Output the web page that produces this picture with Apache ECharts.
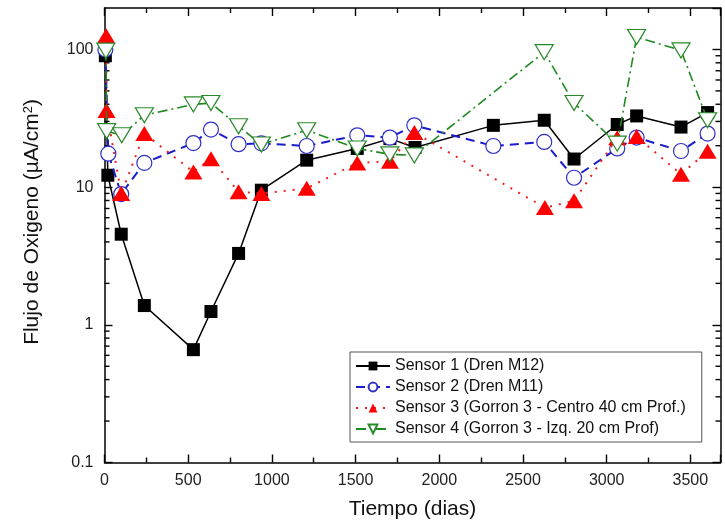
<!DOCTYPE html>
<html>
<head>
<meta charset="utf-8">
<script src="https://cdn.jsdelivr.net/npm/echarts@6/dist/echarts.min.js"></script>
<style>html,body{margin:0;padding:0;background:#fff}#c{width:725px;height:531px}</style>
</head>
<body>
<div id="c"></div>
<script>
// ---- data (Tiempo in dias, Flujo in µA/cm²) ----
const s1Days = [5, 20, 100, 238, 531, 636, 801, 937, 1208, 1510, 1705, 1855, 2323, 2627, 2805, 3063, 3179, 3444, 3603];
const s1Flux = [90, 12.2, 4.55, 1.38, 0.66, 1.25, 3.3, 9.5, 15.7, 19.1, 22.5, 19.4, 28.1, 30.6, 16.0, 28.5, 32.9, 27.3, 34.8];

const s2Days = [5, 23, 100, 238, 531, 636, 801, 937, 1208, 1510, 1705, 1851, 2323, 2627, 2805, 3063, 3179, 3444, 3603];
const s2Flux = [100, 17.5, 8.9, 15.0, 20.9, 26.2, 20.5, 20.8, 19.9, 23.8, 22.9, 28.1, 19.9, 21.3, 11.7, 19.1, 22.9, 18.3, 24.5];

const s3Days = [10, 12, 100, 238, 531, 636, 801, 937, 1208, 1510, 1705, 1851, 2631, 2805, 3063, 3179, 3444, 3603];
const s3Flux = [126, 36, 9.0, 24.5, 12.9, 16.1, 9.25, 9.0, 9.8, 15.0, 15.4, 24.9, 7.1, 7.95, 22.8, 23.3, 12.4, 18.2];

const s4Days = [8, 13, 103, 238, 531, 636, 801, 937, 1208, 1510, 1705, 1851, 2627, 2805, 3063, 3179, 3444, 3603];
const s4Flux = [98, 25.5, 23.8, 33.3, 39.9, 40.8, 27.7, 20.4, 25.9, 19.1, 17.3, 17.0, 95.6, 40.8, 20.7, 123, 98.4, 30.6];

const seriesNames = [
  'Sensor 1 (Dren M12)',
  'Sensor 2 (Dren M11)',
  'Sensor 3 (Gorron 3 - Centro 40 cm Prof.)',
  'Sensor 4 (Gorron 3 - Izq. 20 cm Prof)'
];
const yMajorLabels = [0.1, 1, 10, 100];
const yMinorTicks = [0.2,0.3,0.4,0.5,0.6,0.7,0.8,0.9, 2,3,4,5,6,7,8,9, 20,30,40,50,60,70,80,90];

const X_MIN = 0, X_MAX = 3680, Y_MIN = 0.1, Y_MAX = 200;
const FONT = '"Liberation Sans", Arial, sans-serif';

function pairs(xs, ys) { return xs.map((x, i) => [x, ys[i]]); }

const chart = echarts.init(document.getElementById('c'), null, {renderer: 'canvas'});

const axisLine = {show: true, onZero: false, lineStyle: {color: '#000', width: 1.5}};
const xBase = {
  type: 'value', min: X_MIN, max: X_MAX, interval: 500,
  axisLine: axisLine,
  axisTick: {show: true, inside: true, length: 8, lineStyle: {color: '#000', width: 1.4}},
  minorTick: {show: true, splitNumber: 2, length: 5, lineStyle: {color: '#000', width: 1.4}},
  splitLine: {show: false}
};
const yBase = {
  type: 'log', logBase: 10, min: Y_MIN, max: Y_MAX,
  axisLine: axisLine,
  axisTick: {show: true, inside: true, length: 8, lineStyle: {color: '#000', width: 1.4}},
  splitLine: {show: false}
};

const option = {
  animation: false,
  backgroundColor: '#fff',
  grid: {left: 104.5, right: 4.5, top: 8, bottom: 68.5, containLabel: false},
  xAxis: [
    Object.assign({}, xBase, {
      position: 'bottom',
      name: 'Tiempo (dias)', nameLocation: 'middle', nameGap: 36,
      nameTextStyle: {fontFamily: FONT, fontSize: 21, color: '#111'},
      axisLabel: {show: true, margin: 10, fontFamily: FONT, fontSize: 16, color: '#222',
        formatter: function (v) { return String(v); }}
    }),
    Object.assign({}, xBase, {position: 'top', axisLabel: {show: false}})
  ],
  yAxis: [
    Object.assign({}, yBase, {
      position: 'left',
      axisLabel: {
        show: true, margin: 11, fontFamily: FONT, fontSize: 16, color: '#222',
        showMaxLabel: false,
        formatter: function (v) {
          for (const m of yMajorLabels) { if (Math.abs(v - m) / m < 1e-6) return String(m); }
          return '';
        }
      }
    }),
    Object.assign({}, yBase, {position: 'right', axisLabel: {show: false}})
  ],
  graphic: [{
    type: 'text', x: 32, y: 222, rotation: Math.PI / 2,
    style: {
      text: 'Flujo de Oxigeno (µA/cm{sup|2})',
      rich: {sup: {fontSize: 13, fontFamily: FONT, fill: '#111', verticalAlign: 'top'}},
      font: '21px ' + FONT, fill: '#111', align: 'center', verticalAlign: 'middle'
    }
  }],
  legend: {
    data: seriesNames,
    orient: 'vertical', left: 350, top: 352, align: 'left',
    borderColor: '#555', borderWidth: 1, backgroundColor: '#fff',
    padding: [6, 16, 5, 5], itemGap: 5, itemWidth: 34, itemHeight: 11,
    textStyle: {fontFamily: FONT, fontSize: 16, color: '#111'}
  },
  series: [
    {
      type: 'custom', name: 'yMinor', silent: true, z: 1,
      xAxisIndex: 0, yAxisIndex: 0, clip: false,
      data: yMinorTicks.map(v => [X_MIN, v]),
      encode: {x: 0, y: 1},
      renderItem: function (params, api) {
        const v = api.value(1);
        const pL = api.coord([X_MIN, v]);
        const pR = api.coord([X_MAX, v]);
        const st = {stroke: '#000', lineWidth: 1.4};
        return {type: 'group', children: [
          {type: 'line', shape: {x1: pL[0], y1: pL[1], x2: pL[0] + 5, y2: pL[1]}, style: st},
          {type: 'line', shape: {x1: pR[0], y1: pR[1], x2: pR[0] - 5, y2: pR[1]}, style: st}
        ]};
      }
    },
    {
      name: seriesNames[0], type: 'line', data: pairs(s1Days, s1Flux),
      symbol: 'rect', symbolSize: 13, z: 3,
      lineStyle: {color: '#000', width: 1.5, type: 'solid'},
      itemStyle: {color: '#000'}
    },
    {
      name: seriesNames[1], type: 'line', data: pairs(s2Days, s2Flux),
      symbol: 'circle', symbolSize: 15, z: 4,
      lineStyle: {color: '#1c1cc8', width: 2, type: [9, 6]},
      itemStyle: {color: '#fff', borderColor: '#3030c8', borderWidth: 1.2}
    },
    {
      name: seriesNames[2], type: 'line', data: pairs(s3Days, s3Flux),
      symbol: 'triangle', symbolSize: [18, 15], z: 5,
      lineStyle: {color: '#ee2020', width: 2, type: [2, 7]},
      itemStyle: {color: '#ff0000'}
    },
    {
      name: seriesNames[3], type: 'line', data: pairs(s4Days, s4Flux),
      symbol: 'triangle', symbolRotate: 180, symbolSize: [18, 15], z: 6,
      lineStyle: {color: '#1f8a1f', width: 1.6, type: [10, 4, 2, 4]},
      itemStyle: {color: '#fff', borderColor: '#2a8a2a', borderWidth: 1.2}
    }
  ]
};
chart.setOption(option);
</script>
</body>
</html>
